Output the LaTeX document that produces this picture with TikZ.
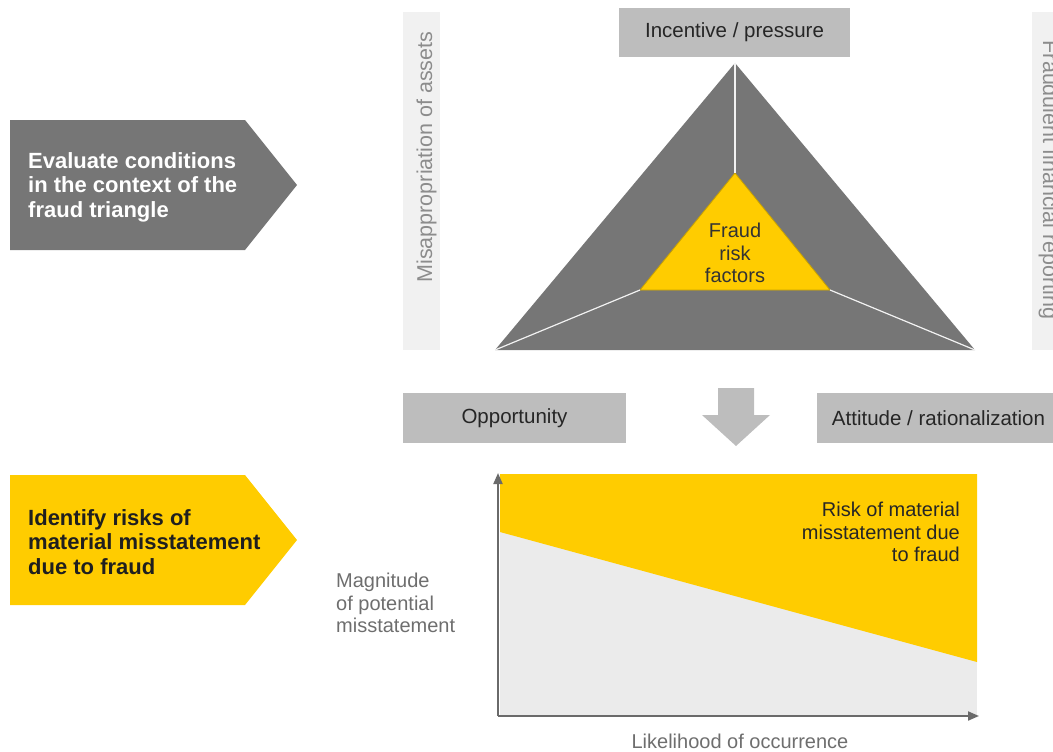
\documentclass[tikz,border=0pt]{standalone}
\usepackage{fontspec}
\setmainfont{Liberation Sans}
\usetikzlibrary{arrows.meta}

\definecolor{stepgrey}{HTML}{767676}
\definecolor{boxgrey}{HTML}{BDBDBD}
\definecolor{bargrey}{HTML}{F1F1F1}
\definecolor{chartgrey}{HTML}{EBEBEB}
\definecolor{fraudyellow}{HTML}{FFCC00}
\definecolor{edgeyellow}{HTML}{C9A200}
\definecolor{labelgrey}{HTML}{6E6E6E}
\definecolor{axisgrey}{HTML}{6A6A6A}

\tikzset{
  corner box/.style={fill=boxgrey, inner sep=0, text=black!85,
    font=\fontsize{20.5}{24}\selectfont},
  side text/.style={inner sep=0, text=black!45,
    font=\fontsize{21.5}{24}\selectfont},
  step text/.style={anchor=north west, align=left, inner sep=0,
    font=\bfseries\fontsize{22}{24.5}\selectfont},
  plain text/.style={inner sep=0, text=black!85,
    font=\fontsize{20}{22.5}\selectfont},
  axis/.style={draw=axisgrey, line width=2, -{Triangle[length=11, width=9]}}
}

\begin{document}
\begin{tikzpicture}[x=1pt, y=-1pt]
  \useasboundingbox (0,0) rectangle (1053,752);

  % Steps on the left
  \fill[stepgrey] (10,120) -- (245,120) -- (297,185) -- (245,250) -- (10,250) -- cycle;
  \node[step text, text=white] (evaluate) at (28,152)
    {Evaluate conditions\\in the context of the\\fraud triangle};
  \fill[fraudyellow] (10,475) -- (245,475) -- (297,540) -- (245,605) -- (10,605) -- cycle;
  \node[step text, text=black!88] (identify) at (28,509)
    {Identify risks of\\material misstatement\\due to fraud};

  % Side bars
  \fill[bargrey] (403,12) rectangle (440,350);
  \fill[bargrey] (1032,12) rectangle (1060,350);
  \node[side text, rotate=90, anchor=base] (assets) at (432,157) {Misappropriation of assets};
  \node[side text, rotate=-90, anchor=base] (reporting) at (1043,180) {Fraudulent financial reporting};

  % Fraud triangle
  \coordinate (top) at (735,63);
  \coordinate (left) at (495,350);
  \coordinate (right) at (975,350);
  \coordinate (in_top) at (735,173);
  \coordinate (in_left) at (640,290);
  \coordinate (in_right) at (830,290);
  \fill[stepgrey] (top) -- (right) -- (left) -- cycle;
  \filldraw[fill=fraudyellow, draw=edgeyellow, line width=0.8] (in_top) -- (in_right) -- (in_left) -- cycle;
  \draw[white!90!gray, line width=1.2] (top) -- (in_top);
  \draw[white!90!gray, line width=1.2] (left) -- (in_left);
  \draw[white!90!gray, line width=1.2] (right) -- (in_right);
  \node[plain text, align=center, text=black!80] (factors) at (735,253) {Fraud\\risk\\factors};

  \node[corner box, minimum width=231, minimum height=49] (incentive) at (734.5,32.5) {Incentive / pressure};
  \node[corner box, minimum width=223, minimum height=50] (opportunity) at (514.5,418) {Opportunity};
  \node[corner box, minimum width=243, minimum height=50] (attitude) at (938.5,418) {Attitude / rationalization};

  % Down arrow
  \fill[boxgrey] (718,388) -- (754,388) -- (754,415) -- (770,415) -- (736,446)
    -- (702,415) -- (718,415) -- cycle;

  % Risk chart
  \coordinate (origin) at (498,716);
  \coordinate (y_end) at (498,473);
  \coordinate (x_end) at (979,716);
  \fill[chartgrey] (500,474) rectangle (977,716);
  \fill[fraudyellow] (500,474) -- (977,474) -- (977,662) -- (500,532) -- cycle;
  \draw[axis] (origin) -- (y_end);
  \draw[axis] (origin) -- (x_end);
  \node[plain text, align=right, anchor=north east] (risk) at (960,502)
    {Risk of material\\misstatement due\\to fraud};
  \node[plain text, align=left, anchor=north west, text=labelgrey] (magnitude) at (336,573)
    {Magnitude\\of potential\\misstatement};
  \node[plain text, text=labelgrey] (likelihood) at (740,741) {Likelihood of occurrence};

\end{tikzpicture}
\end{document}
